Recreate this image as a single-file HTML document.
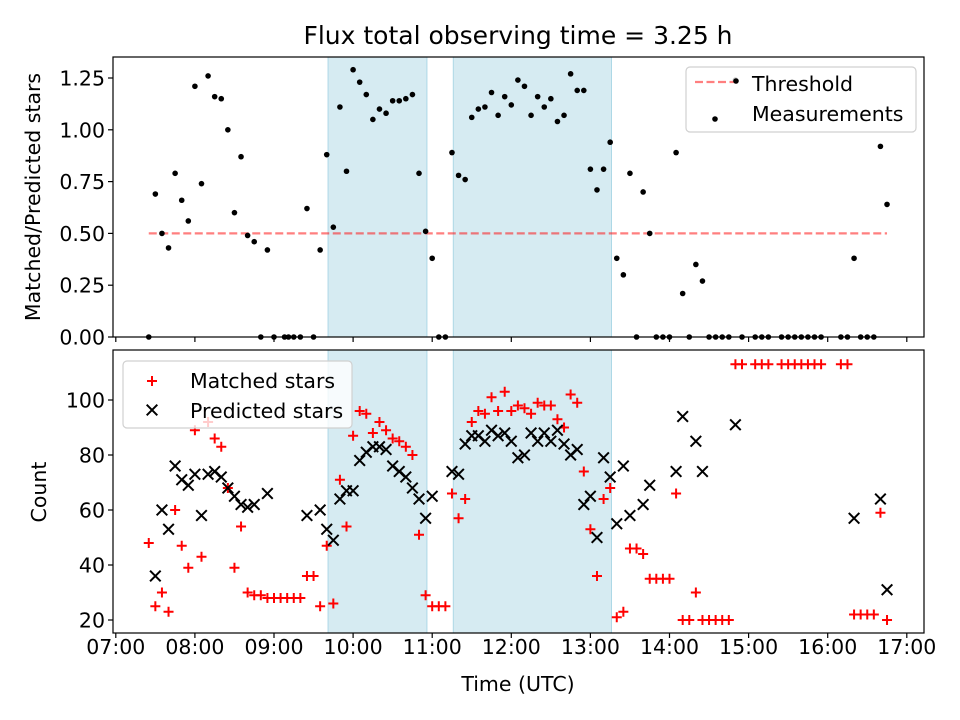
<!DOCTYPE html>
<html><head><meta charset="utf-8"><style>
body{margin:0;background:#fff}
svg text{font-family:"DejaVu Sans","Liberation Sans",sans-serif;fill:#000}
</style></head><body>
<svg id="c" width="960" height="720" xmlns="http://www.w3.org/2000/svg" style="position:absolute;left:0;top:0"></svg>
<script>
// times in minutes after 07:00
const ratioTimes=[25,30,35,40,45,50,55,60,65,70,75,80,85,90,95,100,105,110,115,120,128,131,135,140,145,150,155,160,165,170,175,180,185,190,195,200,205,210,215,220,225,230,235,240,245,250,255,260,265,270,275,280,285,290,295,300,305,310,315,320,325,330,335,340,345,350,355,360,365,370,375,380,385,390,395,400,405,410,415,420,425,430,435,440,445,450,455,460,465,470,475,485,490,495,505,510,515,520,525,530,535,550,555,560,565,570,575,580,585];
const ratioValues=[0,0.69,0.50,0.43,0.79,0.66,0.56,1.21,0.74,1.26,1.16,1.15,1.00,0.60,0.87,0.49,0.46,0,0.42,0,0,0,0,0,0.62,0,0.42,0.88,0.53,1.11,0.80,1.29,1.23,1.17,1.05,1.10,1.08,1.14,1.14,1.15,1.17,0.79,0.51,0.38,0,0,0.89,0.78,0.76,1.06,1.10,1.11,1.18,1.07,1.16,1.12,1.24,1.21,1.07,1.16,1.11,1.15,1.04,1.07,1.27,1.19,1.19,0.81,0.71,0.81,0.94,0.38,0.30,0.79,0,0.70,0.50,0,0,0,0.89,0.21,0,0.35,0.27,0,0,0,0,1.24,0,0,0,0,0,0,0,0,0,0,0,0,0,0.38,0,0,0,0.92,0.64];
const thresholdValue=0.5, thresholdStart=25, thresholdEnd=585;
const matchedTimes=[25,30,35,40,45,50,55,60,65,70,75,80,85,90,95,100,105,110,115,120,125,130,135,140,145,150,155,160,165,170,175,180,185,190,195,200,205,210,215,220,225,230,235,240,245,250,255,260,265,270,275,280,285,290,295,300,305,310,315,320,325,330,335,340,345,350,355,360,365,370,375,380,385,390,395,400,405,410,415,420,425,430,435,440,445,450,455,460,465,470,475,485,490,495,505,510,515,520,525,530,535,550,555,560,565,570,575,580,585];
const matchedValues=[48,25,30,23,60,47,39,89,43,92,86,83,68,39,54,30,29,29,28,28,28,28,28,28,36,36,25,47,26,71,54,87,96,95,88,92,89,86,85,83,80,51,29,25,25,25,66,57,64,92,96,95,101,96,103,96,98,97,95,99,98,98,93,90,102,99,74,53,36,64,68,21,23,46,46,44,35,35,35,35,66,20,20,30,20,20,20,20,20,113,113,113,113,113,113,113,113,113,113,113,113,113,113,22,22,22,22,59,20];
const predictedTimes=[30,35,40,45,50,55,60,65,70,75,80,85,90,95,100,105,115,145,155,160,165,170,175,180,185,190,195,200,205,210,215,220,225,230,235,240,255,260,265,270,275,280,285,290,295,300,305,310,315,320,325,330,335,340,345,350,355,360,365,370,375,380,385,390,400,405,425,430,440,445,470,560,580,585];
const predictedValues=[36,60,53,76,71,69,73,58,73,74,72,68,65,62,61,62,66,58,60,53,49,64,67,67,78,81,83,83,82,76,74,72,68,64,57,65,74,73,84,87,87,85,89,87,88,85,79,80,88,85,88,85,89,84,80,82,62,65,50,79,72,55,76,58,62,69,74,94,85,74,91,57,64,31];
const spans=[[161,236],[256,376]];
const xTickMinutes=[0,60,120,180,240,300,360,420,480,540,600];
const xTickLabels=["07:00","08:00","09:00","10:00","11:00","12:00","13:00","14:00","15:00","16:00","17:00"];
const topTicks=[0,0.25,0.5,0.75,1.0,1.25];
const topTickLabels=["0.00","0.25","0.50","0.75","1.00","1.25"];
const botTicks=[20,40,60,80,100];

const NS="http://www.w3.org/2000/svg";
const svg=document.getElementById('c');
function sx(m){return 115.8+m*79.1/60;}
function sy1(v){return 337-v*207.2;}
function sy2(v){return 620-(v-20)*2.75;}
const L=113,R=924,T1=57,B1=337,T2=350,B2=633;
function mk(tag,attrs,parent){const e=document.createElementNS(NS,tag);for(const k in attrs)e.setAttribute(k,attrs[k]);(parent||svg).appendChild(e);return e;}
function txt(s,attrs,parent){const e=mk('text',attrs,parent);e.textContent=s;return e;}

[[T1,B1],[T2,B2]].forEach(([t,b],pi)=>{spans.forEach((s,i)=>{
  const r=mk('rect',{x:sx(s[0]),y:t,width:sx(s[1])-sx(s[0]),height:b-t,fill:'#add8e6','fill-opacity':0.5,stroke:'#add8e6','stroke-width':1});
  
  
});});

const th=mk('line',{x1:sx(thresholdStart),x2:sx(thresholdEnd),y1:sy1(thresholdValue),y2:sy1(thresholdValue),stroke:'#ff0000','stroke-opacity':0.5,'stroke-width':2.2,'stroke-dasharray':'8,3.5'});



ratioTimes.forEach((t,i)=>{
  const c=mk('circle',{cx:sx(t),cy:sy1(ratioValues[i]),r:2.8,fill:'#000'});
  
  
});
matchedTimes.forEach((t,i)=>{
  const x=sx(t),y=sy2(matchedValues[i]),d=5;
  const p=mk('path',{d:`M${x-d} ${y}H${x+d}M${x} ${y-d}V${y+d}`,stroke:'#ff0000','stroke-width':2,fill:'none'});
  
  
});
predictedTimes.forEach((t,i)=>{
  const x=sx(t),y=sy2(predictedValues[i]),d=5.3;
  const p=mk('path',{d:`M${x-d} ${y-d}L${x+d} ${y+d}M${x-d} ${y+d}L${x+d} ${y-d}`,stroke:'#000','stroke-width':2,fill:'none'});
  
  
});

[[T1,B1,'top'],[T2,B2,'bottom']].forEach(([t,b,n])=>{
  const r=mk('rect',{x:L,y:t,width:R-L,height:b-t,fill:'none',stroke:'#000','stroke-width':1.2});
  
  
  xTickMinutes.forEach(m=>{
    mk('line',{x1:sx(m),x2:sx(m),y1:b,y2:b+5,stroke:'#000','stroke-width':1.2});
  });
});
xTickMinutes.forEach((m,i)=>{
  const e=txt(xTickLabels[i],{x:sx(m),y:B2+21,'font-size':20.5,'text-anchor':'middle'});
  
  
});
topTicks.forEach((v,i)=>{
  mk('line',{x1:L-5,x2:L,y1:sy1(v),y2:sy1(v),stroke:'#000','stroke-width':1.2});
  const e=txt(topTickLabels[i],{x:L-8,y:sy1(v)+7.5,'font-size':20.5,'text-anchor':'end'});
  
  
});
botTicks.forEach(v=>{
  mk('line',{x1:L-5,x2:L,y1:sy2(v),y2:sy2(v),stroke:'#000','stroke-width':1.2});
  const e=txt(String(v),{x:L-8,y:sy2(v)+7.5,'font-size':20.5,'text-anchor':'end'});
  
  
});
</script>
<svg width="960" height="720" style="position:absolute;left:0;top:0" xmlns="http://www.w3.org/2000/svg">
<text x="518" y="44" font-size="25" text-anchor="middle">Flux total observing time = 3.25 h</text>
<text x="0" y="0" font-size="20.5" text-anchor="middle" transform="translate(40,197) rotate(-90)">Matched/Predicted stars</text>
<text x="0" y="0" font-size="20.5" text-anchor="middle" transform="translate(46,492) rotate(-90)">Count</text>
<text x="518" y="691" font-size="20.5" text-anchor="middle">Time (UTC)</text>
<g>
<rect x="686" y="67" width="230" height="65" rx="4" fill="#fff" fill-opacity="0.8" stroke="#d0d0d0" stroke-width="1.2"/>
<line x1="695" x2="737" y1="82" y2="82" stroke="#ff0000" stroke-opacity="0.5" stroke-width="2.2" stroke-dasharray="8,3.5"/>
<circle cx="736" cy="81" r="2.8" fill="#000"/>
<text x="752" y="91" font-size="20.5">Threshold</text>
<circle cx="715" cy="119" r="2.8" fill="#000"/>
<text x="752" y="121" font-size="20.5">Measurements</text>
</g>
<g>
<rect x="123" y="361" width="229" height="67" rx="4" fill="#fff" fill-opacity="0.8" stroke="#d0d0d0" stroke-width="1.2"/>
<path d="M147 381H157M152 376V386" stroke="#ff0000" stroke-width="2"/>
<text x="190" y="388" font-size="20.5">Matched stars</text>
<path d="M146.7 404.7L157.3 415.3M146.7 415.3L157.3 404.7" stroke="#000" stroke-width="2"/>
<text x="190" y="418" font-size="20.5">Predicted stars</text>
</g>
</svg>
</body></html>
